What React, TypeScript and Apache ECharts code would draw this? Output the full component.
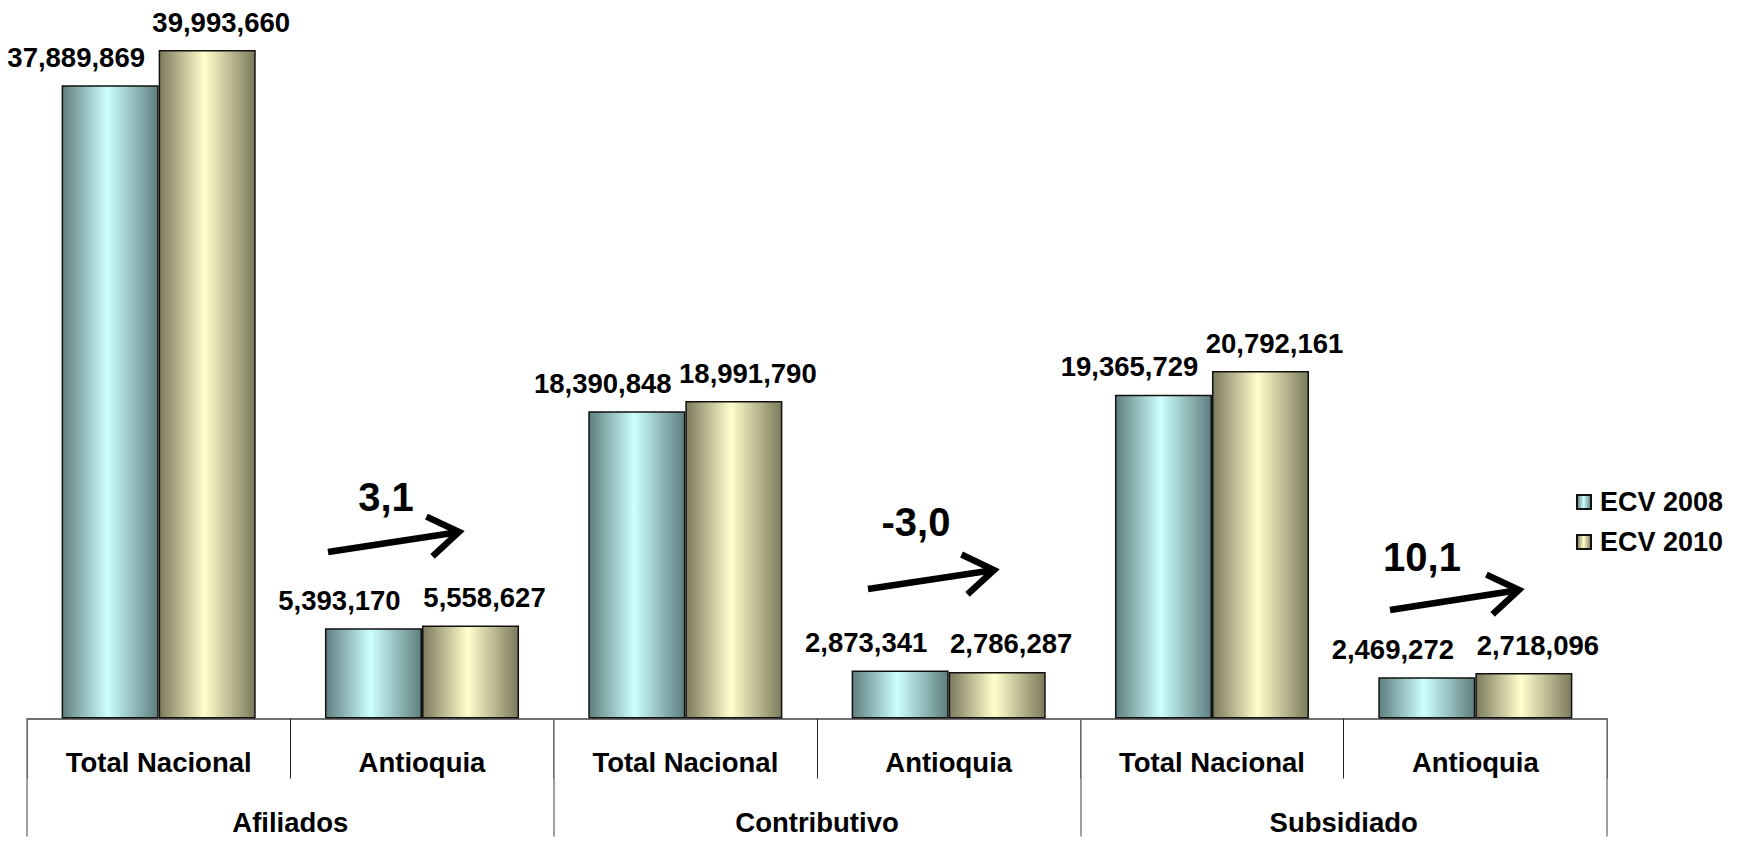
import React, { useEffect, useRef } from "react";
import * as echarts from "echarts";

const categories = ["Total Nacional", "Antioquia", "Total Nacional", "Antioquia", "Total Nacional", "Antioquia"];
const groups = ["Afiliados", "Contributivo", "Subsidiado"];
const seriesNames = ["ECV 2008", "ECV 2010"];
const ecv2008 = [37889869, 5393170, 18390848, 2873341, 19365729, 2469272];
const ecv2010 = [39993660, 5558627, 18991790, 2786287, 20792161, 2718096];
const changeLabels = ["3,1", "-3,0", "10,1"];

const FONT = '"Liberation Sans", Arial, sans-serif';

function grad(edge: string, center: string) {
  return new echarts.graphic.LinearGradient(0, 0, 1, 0, [
    { offset: 0, color: edge },
    { offset: 0.47, color: center },
    { offset: 1, color: edge },
  ]);
}

function arrow(x1: number, y1: number, x2: number, y2: number) {
  const dx = x2 - x1;
  const dy = y2 - y1;
  const len = Math.sqrt(dx * dx + dy * dy);
  const ux = dx / len;
  const uy = dy / len;
  const head = 36;
  const ang = (34 * Math.PI) / 180;
  const rot = (a: number) => [
    -(ux * Math.cos(a) - uy * Math.sin(a)) * head,
    -(ux * Math.sin(a) + uy * Math.cos(a)) * head,
  ];
  const a1 = rot(ang);
  const a2 = rot(-ang);
  return [
    { type: "line", shape: { x1, y1, x2: x2 - ux * 3, y2: y2 - uy * 3 }, style: { stroke: "#000", lineWidth: 6.5 } },
    {
      type: "polyline",
      shape: { points: [[x2 + a1[0], y2 + a1[1]], [x2, y2], [x2 + a2[0], y2 + a2[1]]] },
      style: { stroke: "#000", lineWidth: 6.5, fill: null, lineJoin: "miter", lineCap: "butt" },
    },
  ];
}

const arrowPos = [
  { t: [386, 497], a: [328, 552, 459, 532] },
  { t: [916, 522], a: [868, 589, 994, 570] },
  { t: [1422, 557], a: [1390, 610, 1519, 590] },
];

export default function App() {
  const ref = useRef<HTMLDivElement>(null);
  useEffect(() => {
    if (!ref.current) return;
    const chart = echarts.init(ref.current, null, { renderer: "svg" });
    const fmt = (p: any) => Number(p.value).toLocaleString("en-US");
    const labelBase = {
      show: true,
      position: "top",
      distance: 14,
      fontSize: 27.5,
      fontWeight: "bold",
      fontFamily: FONT,
      color: "#000",
      formatter: fmt,
    };
    const graphics: any[] = [];
    arrowPos.forEach((ap, i) => {
      graphics.push({
        type: "text",
        x: ap.t[0],
        y: ap.t[1],
        style: {
          text: changeLabels[i],
          fill: "#000",
          fontSize: 40,
          fontWeight: "bold",
          fontFamily: FONT,
          align: "center",
          verticalAlign: "middle",
        },
      });
      graphics.push(...arrow(ap.a[0], ap.a[1], ap.a[2], ap.a[3]));
    });
    chart.setOption({
      animation: false,
      backgroundColor: "#fff",
      grid: { left: 27, right: 137, top: 50, bottom: 123.5 },
      legend: {
        orient: "vertical",
        left: 1576,
        top: 488,
        padding: 0,
        itemWidth: 14,
        itemHeight: 14,
        itemGap: 12,
        icon: "rect",
        textStyle: { fontSize: 27, fontWeight: "bold", fontFamily: FONT, color: "#000", lineHeight: 28, padding: [0, 0, 0, 4] },
        data: seriesNames,
      },
      xAxis: [
        {
          type: "category",
          data: categories,
          position: "bottom",
          axisLine: { show: true, lineStyle: { color: "#404040", width: 1.5 } },
          axisTick: { show: true, interval: 0, length: 60, lineStyle: { color: "#222", width: 1 } },
          axisLabel: { interval: 0, margin: 30, fontSize: 27.5, fontWeight: "bold", fontFamily: FONT, color: "#000" },
          splitLine: { show: false },
        },
        {
          type: "category",
          data: groups,
          position: "bottom",
          axisLine: { show: false },
          axisTick: { show: true, interval: 0, length: 118, lineStyle: { color: "#808080", width: 1.5 } },
          axisLabel: { interval: 0, margin: 90, fontSize: 27.5, fontWeight: "bold", fontFamily: FONT, color: "#000" },
          splitLine: { show: false },
        },
      ],
      yAxis: {
        type: "value",
        min: 0,
        max: 40000000,
        show: false,
        splitLine: { show: false },
      },
      series: [
        {
          name: seriesNames[0],
          type: "bar",
          data: ecv2008,
          barGap: "0%",
          barCategoryGap: "26.3%",
          itemStyle: { color: grad("#5f7e7e", "#ccffff"), borderColor: "#111", borderWidth: 1.5 },
          label: { ...labelBase, offset: [-34, 0] },
        },
        {
          name: seriesNames[1],
          type: "bar",
          data: ecv2010,
          barGap: "0%",
          barCategoryGap: "26.3%",
          itemStyle: { color: grad("#7b7a5c", "#ffffcc"), borderColor: "#111", borderWidth: 1.5 },
          label: { ...labelBase, offset: [14, 0] },
        },
      ],
      graphic: graphics,
    });
    return () => chart.dispose();
  }, []);
  return <div ref={ref} style={{ position: "fixed", left: 0, top: 0, width: 1744, height: 842 }} />;
}
